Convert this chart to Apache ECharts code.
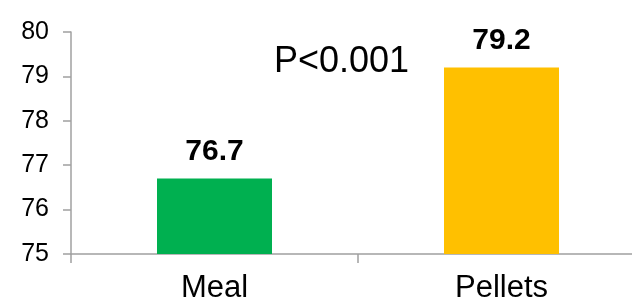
<!DOCTYPE html>
<html>
<head>
<meta charset="utf-8">
<script src="https://cdn.jsdelivr.net/npm/echarts@6/dist/echarts.min.js"></script>
<style>
html,body{margin:0;padding:0;background:#fff;overflow:hidden;width:632px;height:308px;}
#main{width:646px;height:308px;}
</style>
</head>
<body>
<div id="main"></div>
<script>
var categories = ['Meal', 'Pellets'];
var values = [76.7, 79.2];
var barColors = ['#00B050', '#FFC000'];
var yTicks = [75, 76, 77, 78, 79, 80];
var note = 'P<0.001';

// the plot area runs a little past the right edge of the picture,
// so the chart is drawn wider than the window and clipped
var chart = echarts.init(document.getElementById('main'));
var font = '"Liberation Sans", Arial, sans-serif';

var barData = values.map(function (v, i) {
    return {value: v, itemStyle: {color: barColors[i]}};
});

var option = {
    backgroundColor: '#fff',
    animation: false,
    grid: {
        left: 71,
        right: 1,
        top: 32,
        bottom: 54,
        containLabel: false
    },
    xAxis: {
        type: 'category',
        data: categories,
        axisLine: {lineStyle: {color: '#A0A0A0', width: 1.5}},
        axisTick: {show: true, length: 9, lineStyle: {color: '#A0A0A0', width: 1.5}},
        axisLabel: {
            color: '#000',
            fontSize: 31,
            fontFamily: font,
            margin: 19
        }
    },
    yAxis: {
        type: 'value',
        min: yTicks[0],
        max: yTicks[yTicks.length - 1],
        interval: 1,
        splitLine: {show: false},
        axisLine: {show: true, lineStyle: {color: '#A0A0A0', width: 1.5}},
        axisTick: {show: true, length: 8, lineStyle: {color: '#A0A0A0', width: 1.5}},
        axisLabel: {
            color: '#000',
            fontSize: 25,
            fontFamily: font,
            margin: 22
        }
    },
    graphic: [{
        type: 'text',
        left: 274,
        top: 44,
        style: {
            text: note,
            fill: '#000',
            font: '36px ' + font
        }
    }],
    series: [{
        type: 'bar',
        data: barData,
        barWidth: 115,
        label: {
            show: true,
            position: 'top',
            distance: 12,
            color: '#000',
            fontSize: 30,
            fontWeight: 'bold',
            fontFamily: font
        }
    }]
};
chart.setOption(option);
</script>
</body>
</html>
